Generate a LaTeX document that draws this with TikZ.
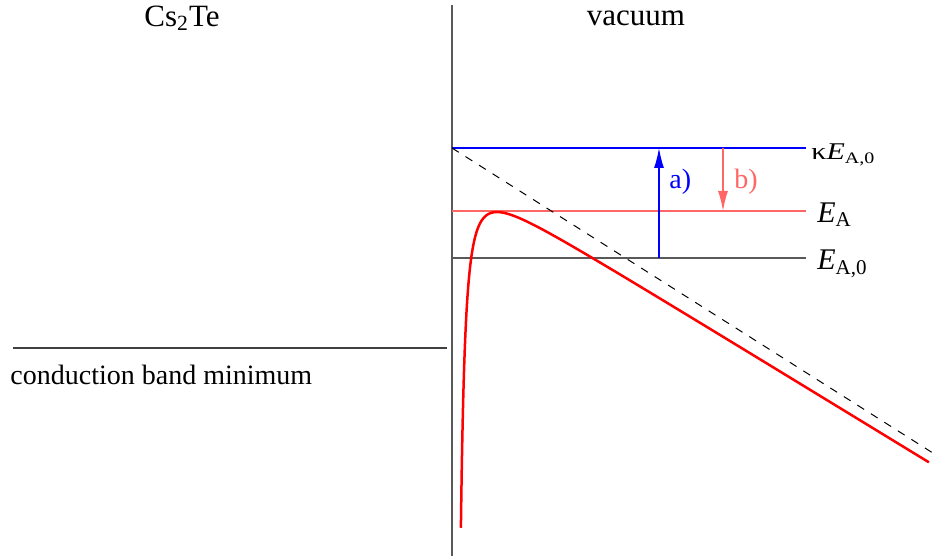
\documentclass[tikz,border=0pt]{standalone}
\usepackage{fontspec}
\setmainfont{Liberation Serif}
\usetikzlibrary{arrows.meta,positioning}
\begin{document}
\begin{tikzpicture}[x=0.5pt, y=-0.5pt,
        lbl/.style={font=\fontsize{14}{16}\selectfont, inner sep=0pt},
        elbl/.style={font=\fontsize{15}{17}\selectfont, inner sep=0pt, anchor=base west},
        tipp/.style={-{Latex[length=10pt, width=5pt]}}]
    \useasboundingbox (0,0) rectangle (938,556);

    % Grenzflaeche Cs2Te | Vakuum
    \draw[black!65, line width=0.8pt] (452,5) -- (452,556);
    \node[lbl, font=\fontsize{15.5}{17}\selectfont] (cstext) at (182,18) {Cs\textsubscript{2}Te};
    \node[lbl, font=\fontsize{15.5}{17}\selectfont] (vactext) at (636,18) {vacuum};

    \draw[black!75, line width=0.6pt] (13,348) coordinate (cb0) -- (447,348) coordinate (cb1);
    \node[lbl, anchor=base west] (cbm) at (10,384) {conduction band minimum};

    % Niveaus
    \coordinate (k0) at (452,148);  \coordinate (k1) at (806,148);
    \coordinate (e0) at (452,211);  \coordinate (e1) at (806,211);
    \coordinate (a0) at (452,258);  \coordinate (a1) at (806,258);
    \draw[blue, line width=0.65pt] (k0) -- (k1);
    \draw[red!60, line width=0.7pt] (e0) -- (e1);
    \draw[black!65, line width=0.8pt] (a0) -- (a1);

    \node[elbl, font=\fontsize{12}{13}\selectfont] (kEA) at (811,160)
        {\scalebox{1.25}[1]{κ\textit{E}\textsubscript{A,0}}};
    \node[elbl] (EA) at (817,222) {\textit{E}\textsubscript{A}};
    \node[elbl] (EA0) at (817,270) {\textit{E}\textsubscript{A,0}};

    % Vakuumpotential ohne Bildladung
    \draw[dashed, dash pattern=on 4pt off 4pt, line width=0.5pt] (k0) -- (936,455);

    % Potential mit Bildladung
    \draw[red, line width=1.25pt] plot[domain={ln(8.9)}:{ln(478)}, samples=160, variable=\t]
        ({452+exp(\t)}, {170.8+0.611*exp(\t)+(166.85/exp(\t))^2});

    % a) und b)
    \coordinate (pa0) at (659,258);  \coordinate (pa1) at (659,148);
    \coordinate (pb0) at (723,148);  \coordinate (pb1) at (723,211);
    \draw[blue, tipp, line width=0.65pt] (pa0) -- (pa1);
    \draw[red!60, tipp, line width=0.7pt] (pb0) -- (pb1);
    \node[lbl, blue, anchor=west] (atext) at (669,182) {a)};
    \node[lbl, red!60, anchor=west] (btext) at (734,182) {b)};
\end{tikzpicture}
\end{document}
